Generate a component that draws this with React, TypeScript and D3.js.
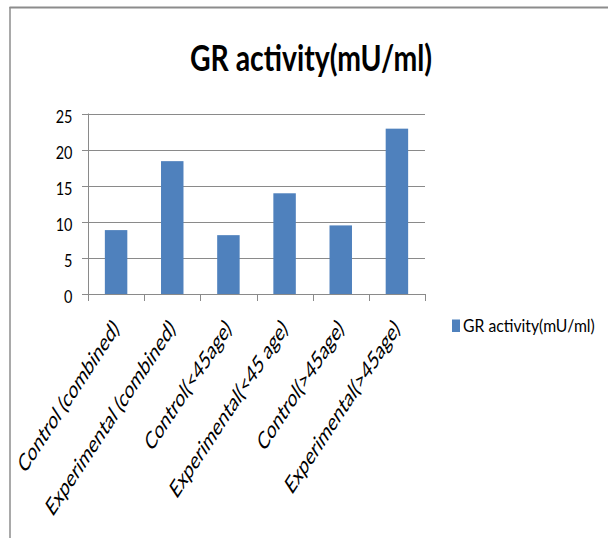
import React from "react";
import * as d3 from "d3";

const categories = [
  "Control (combined)",
  "Experimental (combined)",
  "Control(<45age)",
  "Experimental(<45 age)",
  "Control(>45age)",
  "Experimental(>45age)",
];
const values = [8.85, 18.4, 8.15, 13.95, 9.5, 22.9];
const yTicks = [0, 5, 10, 15, 20, 25];
const seriesName = "GR activity(mU/ml)";
const title = "GR activity(mU/ml)";

const W = 608;
const H = 538;
const FONT = "Lato, 'Noto Sans', sans-serif";
const SQ = 0.66;

export default function App() {
  const x = d3
    .scaleBand<string>()
    .domain(categories)
    .range([88, 425])
    .paddingInner(0.6)
    .paddingOuter(0.3);
  const y = d3.scaleLinear().domain([0, 25]).range([294, 113.5]);
  const step = x.step();
  const boundaries = d3.range(categories.length + 1).map((i) => 88 + i * step);
  const grid = "#8a8a8a";

  return (
    <svg
      width={W}
      height={H}
      style={{ position: "absolute", left: 0, top: 0, background: "#fff" }}
    >
      {/* outer frame */}
      <line x1={9.5} x2={W} y1={7.5} y2={7.5} stroke="#8c8c8c" strokeWidth={2} />
      <line x1={10} x2={10} y1={7} y2={H} stroke="#8c8c8c" strokeWidth={1.5} />

      {/* title */}
      <text
        x={190}
        y={71}
        fontFamily={FONT}
        fontWeight="bold"
        fontSize={37}
        textLength={242}
        lengthAdjust="spacingAndGlyphs"
        fill="#000"
      >
        {title}
      </text>

      {/* gridlines */}
      {yTicks.map((t) => (
        <line
          key={"g" + t}
          x1={82}
          x2={425}
          y1={Math.round(y(t)) + 0.5}
          y2={Math.round(y(t)) + 0.5}
          stroke={grid}
          strokeWidth={1}
        />
      ))}
      {/* y axis */}
      <line x1={88.5} x2={88.5} y1={y(25)} y2={y(0)} stroke={grid} strokeWidth={1} />
      {/* x ticks */}
      {boundaries.map((b, i) => (
        <line
          key={"xt" + i}
          x1={Math.round(b) + 0.5}
          x2={Math.round(b) + 0.5}
          y1={y(0)}
          y2={y(0) + 7}
          stroke={grid}
          strokeWidth={1}
        />
      ))}

      {/* y tick labels */}
      {yTicks.map((t) => (
        <text
          key={"yl" + t}
          transform={`translate(72.5,${y(t) + 9}) scale(0.85,1)`}
          textAnchor="end"
          fontFamily={FONT}
          fontSize={17}
          fill="#000"
        >
          {t}
        </text>
      ))}

      {/* bars */}
      {categories.map((c, i) => (
        <rect
          key={"b" + i}
          x={x(c)}
          y={y(values[i])}
          width={x.bandwidth()}
          height={y(0) - y(values[i])}
          fill="#4f81bd"
        />
      ))}

      {/* x labels */}
      {categories.map((c) => {
        const cx = (x(c) as number) + x.bandwidth() / 2;
        return (
          <text
            key={"xl" + c}
            transform={`translate(${cx + 4},${330}) scale(${SQ},1) rotate(-45)`}
            textAnchor="end"
            fontFamily={FONT}
            fontSize={24.5}
            fill="#000"
          >
            {c}
          </text>
        );
      })}

      {/* legend */}
      <rect x={452} y={319.5} width={8} height={12.5} fill="#4f81bd" />
      <text
        transform="translate(463,332) scale(0.875,1)"
        fontFamily={FONT}
        fontSize={18}
        fill="#000"
      >
        {seriesName}
      </text>
    </svg>
  );
}
